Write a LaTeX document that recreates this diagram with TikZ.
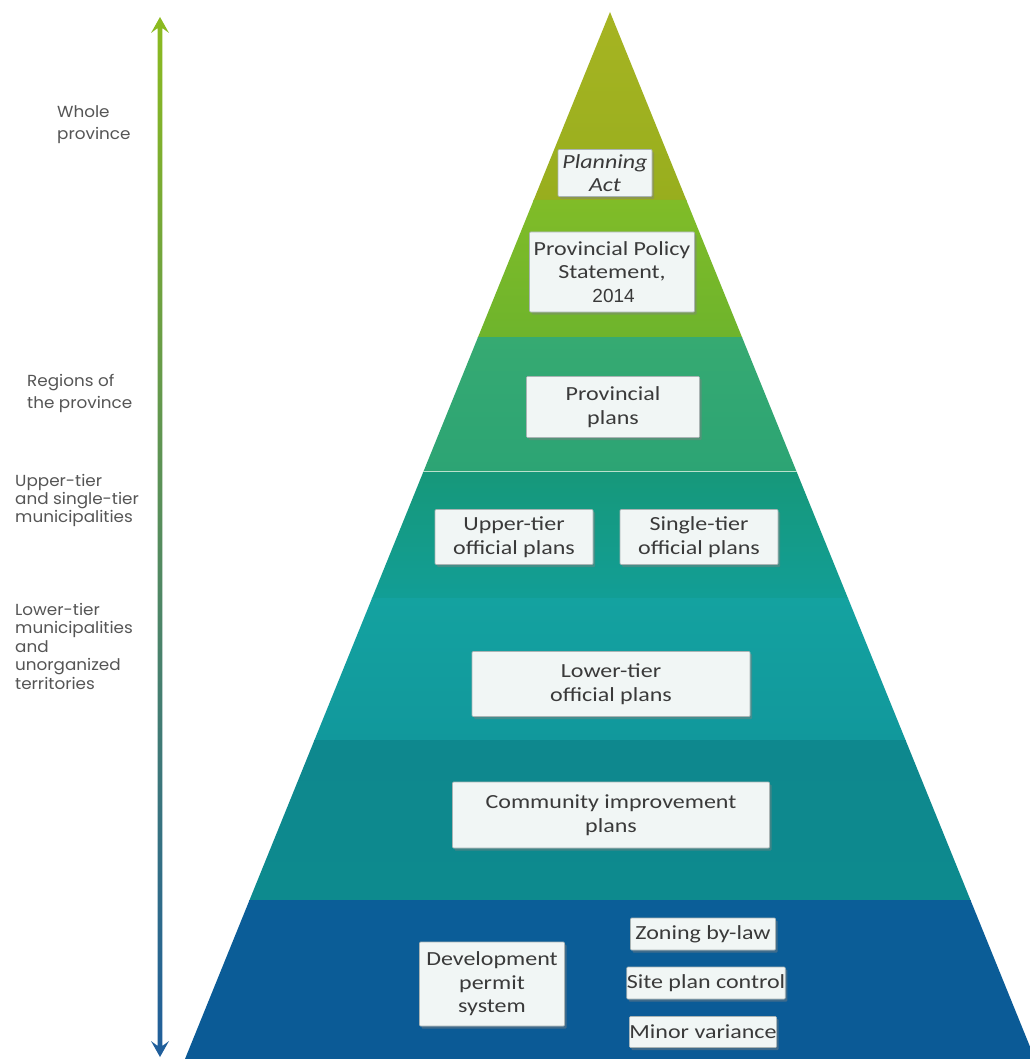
\documentclass[tikz,border=0pt]{standalone}
\usepackage{fontspec}
\setmainfont{Carlito}[FakeStretch=1.2]
\newfontfamily\gothic{Poppins}[FakeStretch=1.05]
\newfontfamily\arialf{Liberation Sans}
\usetikzlibrary{calc,shadows}
\definecolor{bandA}{RGB}{166,180,34}
\definecolor{bandAb}{RGB}{152,174,30}
\definecolor{bandB}{RGB}{128,188,40}
\definecolor{bandBb}{RGB}{110,180,44}
\definecolor{bandC}{RGB}{54,170,114}
\definecolor{bandCb}{RGB}{44,164,116}
\definecolor{bandD}{RGB}{22,152,122}
\definecolor{bandDb}{RGB}{18,158,150}
\definecolor{bandE}{RGB}{20,162,160}
\definecolor{bandEb}{RGB}{17,152,156}
\definecolor{bandF}{RGB}{14,136,142}
\definecolor{bandFb}{RGB}{13,138,142}
\definecolor{bandG}{RGB}{11,94,152}
\definecolor{bandGb}{RGB}{11,90,150}
\definecolor{arrTop}{RGB}{140,187,31}
\definecolor{arrMid}{RGB}{40,160,110}
\definecolor{arrBot}{RGB}{31,94,156}
\definecolor{boxfill}{RGB}{241,246,245}
\definecolor{boxline}{RGB}{170,180,180}
\definecolor{boxtext}{RGB}{58,58,58}
\definecolor{reachtext}{RGB}{85,85,85}
\tikzset{
  plan/.style={draw=boxline, line width=0.6pt, fill=boxfill, rounded corners=1pt,
    drop shadow={shadow xshift=2pt, shadow yshift=-2.5pt, opacity=0.45},
    inner sep=0pt, align=center, text=boxtext, font=\fontsize{20}{23.5}\selectfont},
  reach/.style={anchor=north west, align=left, inner sep=0pt, text=reachtext}
}

\begin{document}
\begin{tikzpicture}[x=1pt,y=-1pt]
  \useasboundingbox (0,0) rectangle (1029,1059);
  \fill[white] (0,0) rectangle (1029,1059);
  \coordinate (apex) at (610,12);
  \coordinate (bl) at (185,1059);
  \coordinate (br) at (1035,1059);
  \foreach \ya/\yb/\ca/\cb in {12/201/bandA/bandAb, 200/338/bandB/bandBb, 337/473/bandC/bandCb,
      472/599/bandD/bandDb, 598/741/bandE/bandEb, 740/901/bandF/bandFb, 900/1059/bandG/bandGb}
    \shade[top color=\ca, bottom color=\cb]
      ($(apex)!{(\ya-12)/1047}!(bl)$) -- ($(apex)!{(\yb-12)/1047}!(bl)$)
      -- ($(apex)!{(\yb-12)/1047}!(br)$) -- ($(apex)!{(\ya-12)/1047}!(br)$) -- cycle;
  \draw[white!65!bandC, line width=1pt]
    ($(apex)!{460/1047}!(bl)$) -- ($(apex)!{460/1047}!(br)$);

  % scale arrow
  \coordinate (top) at (160,17);
  \coordinate (bot) at (160,1057);
  \shade[top color=arrTop, middle color=arrMid, bottom color=arrBot]
    (top) -- ($(top)+(9,16)$) -- ($(top)+(2.3,11)$) -- ($(bot)+(2.3,-11)$) -- ($(bot)+(9,-16)$)
    -- (bot) -- ($(bot)+(-9,-16)$) -- ($(bot)+(-2.3,-11)$) -- ($(top)+(-2.3,11)$)
    -- ($(top)+(-9,16)$) -- cycle;

  \node[reach, font=\gothic\fontsize{16}{22}\selectfont] (whole) at (57,105) {Whole\\province};
  \node[reach, font=\gothic\fontsize{16}{22}\selectfont] (regions) at (27,374) {Regions of\\the province};
  \node[reach, font=\gothic\fontsize{16}{18}\selectfont] (upper) at (15,474) {Upper-tier\\and single-tier\\municipalities};
  \node[reach, font=\gothic\fontsize{16}{18.5}\selectfont] (lower) at (15,603) {Lower-tier\\municipalities\\and\\unorganized\\territories};

  \node[plan, minimum width=94, minimum height=47] (act) at (605,173) {\textit{Planning}\\\textit{Act}};
  \node[plan, minimum width=165, minimum height=80] (pps) at (612,272)
    {Provincial Policy\\Statement,\\{\arialf\fontsize{19}{22}\selectfont\,2014}};
  \node[plan, minimum width=173, minimum height=61] (prov) at (613,407) {Provincial\\plans};
  \node[plan, minimum width=158, minimum height=55] (uppertier) at (514,537) {Upper-tier\\official plans};
  \node[plan, minimum width=158, minimum height=55] (singletier) at (699,537) {Single-tier\\official plans};
  \node[plan, minimum width=278, minimum height=65] (lowertier) at (611,684) {Lower-tier\\official plans};
  \node[plan, minimum width=317, minimum height=66] (cip) at (611,815) {Community improvement\\plans};
  \node[plan, minimum width=145, minimum height=84] (dps) at (492,984) {Development\\permit\\system};
  \node[plan, minimum width=145, minimum height=32] (zoning) at (703,934) {Zoning by-law};
  \node[plan, minimum width=158, minimum height=32] (site) at (706,983) {Site plan control};
  \node[plan, minimum width=144, minimum height=31] (minor) at (703,1032) {Minor variance};
\end{tikzpicture}
\end{document}
